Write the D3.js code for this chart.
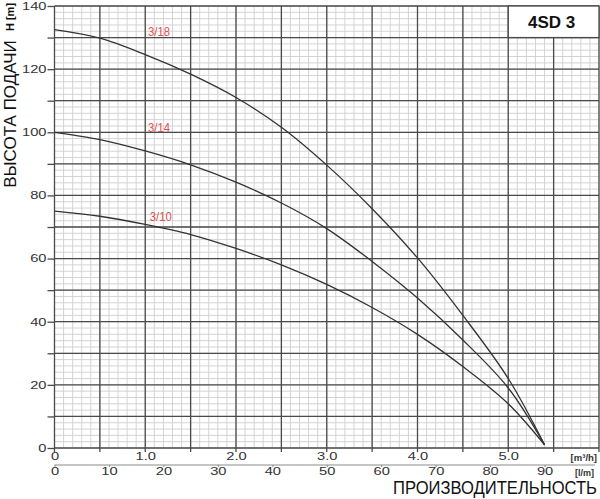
<!DOCTYPE html>
<html>
<head>
<meta charset="utf-8">
<script src="https://cdn.jsdelivr.net/npm/d3@7"></script>
<style>
  body { margin: 0; background: #fff; }
  text { font-family: "Liberation Sans", Arial, sans-serif; fill: #333; }
</style>
</head>
<body>
<div id="chart"></div>
<script>
// Pump curves: flow in m3/h, head in m
const flowPts = [0, 0.5, 1.0, 1.5, 2.0, 2.5, 3.0, 3.5, 4.0, 4.5, 5.0, 5.4];
const head318 = [132.5, 129.8, 124.6, 118.4, 111.0, 101.6, 89.6, 75.8, 60.2, 42, 22, 1];
const head314 = [100, 97.7, 94.1, 89.7, 84.2, 77.6, 69.5, 59.1, 47.5, 34.2, 19, 1];
const head310 = [75, 73.4, 70.8, 67.6, 63.2, 58, 51.8, 44.5, 36, 25.8, 14, 1];
const curveNames = ["3/18", "3/14", "3/10"];
const labelFlow = [1.03, 1.03, 1.05];
const labelHead = [130.5, 100.1, 71.8];

// Axis ticks
const headTicks = [0, 20, 40, 60, 80, 100, 120, 140];
const flowTicks = [0, 1, 2, 3, 4, 5];
const flowTickLabels = ["0", "1.0", "2.0", "3.0", "4.0", "5.0"];
const lpmTicks = [0, 10, 20, 30, 40, 50, 60, 70, 80, 90];

const width = 600;
const height = 499;

const svg = d3.select("#chart")
  .append("svg")
  .attr("width", width)
  .attr("height", height);

const x = d3.scaleLinear().domain([0, 6]).range([54.5, 599]);
const y = d3.scaleLinear().domain([0, 140]).range([448, 6]);
// 100 l/min = 6 m3/h
const xl = d3.scaleLinear().domain([0, 100]).range([x(0), x(6)]);

// minor grid
const grid = svg.append("g");
grid.selectAll(".vmin")
  .data(d3.range(0, 60.5, 1).map(d => d / 10))
  .join("line")
  .attr("x1", d => x(d)).attr("x2", d => x(d))
  .attr("y1", y(0)).attr("y2", y(140))
  .attr("stroke", "#cfcfcf").attr("stroke-width", 0.9);
grid.selectAll(".hmin")
  .data(d3.range(0, 141, 2))
  .join("line")
  .attr("x1", x(0)).attr("x2", x(6))
  .attr("y1", d => y(d)).attr("y2", d => y(d))
  .attr("stroke", "#cfcfcf").attr("stroke-width", 0.9);

// major grid
grid.selectAll(".vmaj")
  .data(d3.range(0, 12.5, 1).map(d => d / 2))
  .join("line")
  .attr("x1", d => x(d)).attr("x2", d => x(d))
  .attr("y1", y(0) + 4).attr("y2", y(140))
  .attr("stroke", "#4a4a4a").attr("stroke-width", 1.3);
grid.selectAll(".hmaj")
  .data(d3.range(0, 141, 10))
  .join("line")
  .attr("x1", x(0)).attr("x2", x(6))
  .attr("y1", d => y(d)).attr("y2", d => y(d))
  .attr("stroke", "#4a4a4a").attr("stroke-width", 1.3);

const sx = 1.4; // tick labels are drawn wide

// y axis
const yAxis = svg.append("g")
  .attr("transform", `translate(${x(0)},0)`)
  .call(d3.axisLeft(y).tickValues(d3.range(0, 141, 10)).tickSize(7).tickPadding(1)
    .tickFormat(d => headTicks.includes(d) ? d : ""));
yAxis.select(".domain").remove();
yAxis.selectAll("line").attr("stroke", "#4a4a4a").attr("stroke-width", 1.3);
yAxis.selectAll("text")
  .attr("x", -8 / sx)
  .attr("transform", `scale(${sx},1)`)
  .style("font-size", "10.5px")
  .style("font-family", "Liberation Sans")
  .attr("fill", "#333");

// x axis m3/h
const xAxis = svg.append("g")
  .attr("transform", `translate(0,${y(0)})`)
  .call(d3.axisBottom(x).tickValues(flowTicks).tickSize(0).tickPadding(5)
    .tickFormat((d, i) => flowTickLabels[i]));
xAxis.select(".domain").remove();
xAxis.selectAll("text")
  .attr("transform", `scale(${sx},1)`)
  .attr("y", 5)
  .style("font-size", "10.5px")
  .style("font-family", "Liberation Sans")
  .attr("fill", "#333");

// x axis l/min
const lAxis = svg.append("g")
  .attr("transform", `translate(0,465)`)
  .call(d3.axisBottom(xl).tickValues(lpmTicks).tickSize(2).tickPadding(1));
lAxis.select(".domain").attr("stroke", "#8a8a8a").attr("d", `M${x(0)},0H${x(6) - 4}`);
lAxis.selectAll("line").attr("stroke", "#8a8a8a");
lAxis.selectAll("text")
  .attr("transform", `scale(${sx},1)`)
  .style("font-size", "10.5px")
  .style("font-family", "Liberation Sans")
  .attr("fill", "#333");

// unit labels
svg.append("text")
  .attr("x", 597).attr("y", 461)
  .attr("text-anchor", "end")
  .style("font-size", "9.5px").style("font-weight", "bold")
  .text("[m³/h]");
svg.append("text")
  .attr("x", 594).attr("y", 475.5)
  .attr("text-anchor", "end")
  .style("font-size", "9px").style("font-weight", "bold")
  .text("[l/m]");

// curves
const series = [head318, head314, head310];
const line = d3.line().curve(d3.curveCatmullRom.alpha(0.5));
svg.append("g")
  .selectAll("path")
  .data(series)
  .join("path")
  .attr("d", s => line(flowPts.map((q, i) => [x(q), y(s[i])])))
  .attr("fill", "none")
  .attr("stroke", "#333")
  .attr("stroke-width", 1.3);

// curve labels
svg.append("g")
  .selectAll("text")
  .data(curveNames)
  .join("text")
  .attr("x", (d, i) => x(labelFlow[i]))
  .attr("y", (d, i) => y(labelHead[i]))
  .attr("textLength", 22).attr("lengthAdjust", "spacingAndGlyphs")
  .style("font-size", "13px")
  .style("fill", "#d9534f")
  .text(d => d);

// model box
svg.append("rect")
  .attr("x", x(5)).attr("y", y(140))
  .attr("width", x(6) - x(5)).attr("height", y(130) - y(140))
  .attr("fill", "#fff")
  .attr("stroke", "#4a4a4a").attr("stroke-width", 1.3);
svg.append("text")
  .attr("x", (x(5) + x(6)) / 2 - 2)
  .attr("y", y(135) + 6)
  .attr("text-anchor", "middle")
  .style("font-size", "17px").style("font-weight", "bold")
  .style("fill", "#111")
  .text("4SD 3");

// axis titles
svg.append("text")
  .attr("transform", "translate(15.5,114) rotate(-90)")
  .attr("text-anchor", "middle")
  .style("font-size", "17px")
  .style("fill", "#111")
  .text("ВЫСОТА ПОДАЧИ");
svg.append("text")
  .attr("transform", "translate(13.5,17) rotate(-90)")
  .attr("text-anchor", "middle")
  .style("font-size", "11px").style("font-weight", "bold")
  .style("fill", "#111")
  .text("H [m]");

// bottom title, squeezed to the width it has in the picture
const xTitle = svg.append("text")
  .attr("text-anchor", "end")
  .style("font-size", "18.5px")
  .style("fill", "#111")
  .text("ПРОИЗВОДИТЕЛЬНОСТЬ");
const natural = xTitle.node().getComputedTextLength();
xTitle.attr("transform", `translate(597,494) scale(${204 / natural},1)`);
</script>
</body>
</html>
